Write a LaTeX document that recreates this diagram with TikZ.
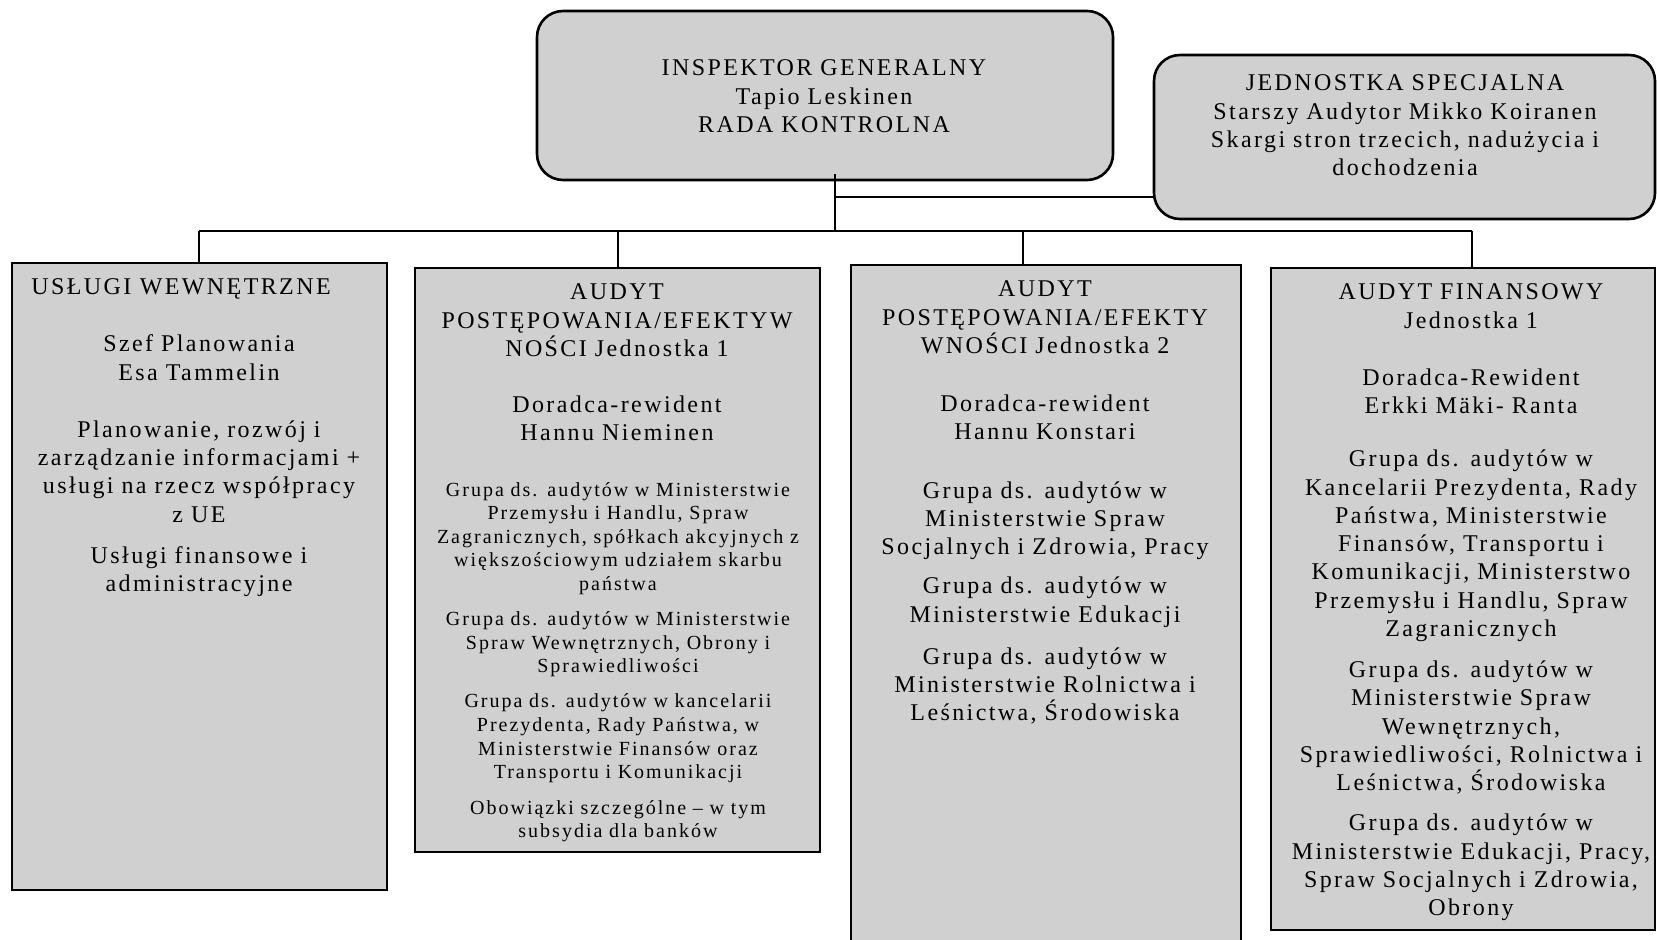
\documentclass[tikz,border=0pt]{standalone}
\usepackage{fontspec}
\setmainfont{Liberation Serif}
\newfontfamily\trk{Liberation Serif}[LetterSpace=10]
\definecolor{boxgray}{RGB}{208,208,208}
\newcommand\bigtxt{\trk\fontsize{12}{14.12}\selectfont}
\newcommand\smalltxt{\trk\fontsize{10}{11.8}\selectfont}
\tikzset{
  rbox/.style={draw, line width=1.3pt, rounded corners=13pt, fill=boxgray, inner sep=0pt},
  sbox/.style={draw, line width=1pt, fill=boxgray, inner sep=0pt},
  conn/.style={line width=1pt},
  txt/.style={align=center, text width=250pt, inner sep=0pt, font=\bigtxt, anchor=base},
  stxt/.style={align=center, text width=250pt, inner sep=0pt, font=\smalltxt, anchor=base},
}
\begin{document}
\begin{tikzpicture}[x=0.5pt,y=-0.5pt]
\useasboundingbox (0,0) rectangle (1657,940);
\fill[white] (0,0) rectangle (1657,940);

% top boxes
\node[rbox, minimum width=288pt, minimum height=84.5pt] (top) at (825,95.5) {};
\node[txt] (topt) at (824,76) {INSPEKTOR GENERALNY\\Tapio Leskinen\\RADA KONTROLNA};
\node[rbox, minimum width=250.5pt, minimum height=82pt] (spec) at (1404.5,137) {};
\node[txt] (spect) at (1405,91) {JEDNOSTKA SPECJALNA\\Starszy Audytor Mikko Koiranen\\Skargi stron trzecich, nadużycia i\\dochodzenia};

% lower boxes
\node[sbox, minimum width=187.5pt, minimum height=313.5pt] (int) at (199.5,576.5) {};
\node[font=\bigtxt, anchor=base west, inner sep=0pt] (intH) at (31,295) {USŁUGI WEWNĘTRZNE};
\node[txt] (intB) at (199,352) {Szef Planowania\\Esa Tammelin\\[14.5pt]Planowanie, rozwój i\\zarządzanie informacjami +\\usługi na rzecz współpracy\\z UE\\[6.5pt]Usługi finansowe i\\administracyjne};

\node[sbox, minimum width=202.5pt, minimum height=292pt] (pe1) at (617.5,560) {};
\node[txt] (pe1H) at (617,300) {AUDYT\\POSTĘPOWANIA/EFEKTYW\\NOŚCI Jednostka 1\\[14pt]Doradca-rewident\\Hannu Nieminen};
\node[stxt] (pe1B) at (618,496) {Grupa ds. audytów w Ministerstwie\\Przemysłu i Handlu, Spraw\\Zagranicznych, spółkach akcyjnych z\\większościowym udziałem skarbu\\państwa\\[5.75pt]Grupa ds. audytów w Ministerstwie\\Spraw Wewnętrznych, Obrony i\\Sprawiedliwości\\[5.75pt]Grupa ds. audytów w kancelarii\\Prezydenta, Rady Państwa, w\\Ministerstwie Finansów oraz\\Transportu i Komunikacji\\[6pt]Obowiązki szczególne – w tym\\subsydia dla banków};

\node[sbox, minimum width=195pt, minimum height=347.5pt] (pe2) at (1046,612.5) {};
\node[txt] (pe2T) at (1045,297) {AUDYT\\POSTĘPOWANIA/EFEKTY\\WNOŚCI Jednostka 2\\[15pt]Doradca-rewident\\Hannu Konstari\\[15pt]Grupa ds. audytów w\\Ministerstwie Spraw\\Socjalnych i Zdrowia, Pracy\\[5.5pt]Grupa ds. audytów w\\Ministerstwie Edukacji\\[7pt]Grupa ds. audytów w\\Ministerstwie Rolnictwa i\\Leśnictwa, Środowiska};

\node[sbox, minimum width=192pt, minimum height=331pt] (fin) at (1463,599) {};
\node[txt] (finT) at (1471,300) {AUDYT FINANSOWY\\Jednostka 1\\[14.5pt]Doradca-Rewident\\Erkki Mäki- Ranta\\[12.5pt]Grupa ds. audytów w\\Kancelarii Prezydenta, Rady\\Państwa, Ministerstwie\\Finansów, Transportu i\\Komunikacji, Ministerstwo\\Przemysłu i Handlu, Spraw\\Zagranicznych\\[6.5pt]Grupa ds. audytów w\\Ministerstwie Spraw\\Wewnętrznych,\\Sprawiedliwości, Rolnictwa i\\Leśnictwa, Środowiska\\[6pt]Grupa ds. audytów w\\Ministerstwie Edukacji, Pracy,\\Spraw Socjalnych i Zdrowia,\\Obrony};

% connectors
\coordinate (tstem) at (835,174);
\coordinate (tj) at (835,197);
\coordinate (bus) at (835,231);
\coordinate (d1) at (199,231);
\coordinate (d2) at (618,231);
\coordinate (d3) at (1023,231);
\coordinate (d4) at (1472,231);
\draw[conn] (tstem) -- (bus);
\draw[conn] (tj) -- (tj -| spec.west);
\draw[conn] (d1) -- (d4);
\draw[conn] (d1) -- (d1 |- int.north);
\draw[conn] (d2) -- (d2 |- pe1.north);
\draw[conn] (d3) -- (d3 |- pe2.north);
\draw[conn] (d4) -- (d4 |- fin.north);
\end{tikzpicture}
\end{document}
